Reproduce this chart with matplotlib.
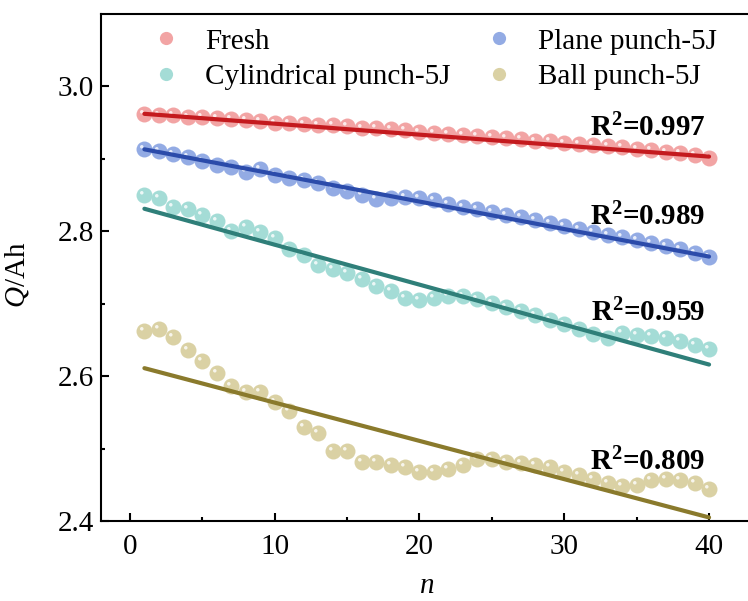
import numpy as np
import matplotlib
matplotlib.use("Agg")
import matplotlib.pyplot as plt
from matplotlib.path import Path
from matplotlib.lines import Line2D
from matplotlib.legend_handler import HandlerTuple

plt.rcParams['font.family'] = ['Liberation Serif', 'DejaVu Serif']
plt.rcParams['mathtext.fontset'] = 'custom'
plt.rcParams['mathtext.rm'] = 'Liberation Serif'
plt.rcParams['mathtext.it'] = 'Liberation Serif:italic'
plt.rcParams['mathtext.bf'] = 'Liberation Serif:bold'

# cycle number
n = np.arange(1, 41)

fresh = [2.962, 2.961, 2.960, 2.958, 2.957, 2.956, 2.955, 2.953, 2.952, 2.950,
         2.949, 2.948, 2.947, 2.946, 2.945, 2.943, 2.942, 2.941, 2.939, 2.937,
         2.936, 2.934, 2.933, 2.932, 2.930, 2.929, 2.927, 2.925, 2.924, 2.922,
         2.921, 2.919, 2.917, 2.916, 2.914, 2.912, 2.910, 2.908, 2.905, 2.901]
plane = [2.914, 2.911, 2.906, 2.903, 2.897, 2.892, 2.888, 2.882, 2.886, 2.878,
         2.874, 2.870, 2.866, 2.860, 2.855, 2.850, 2.845, 2.846, 2.847, 2.846,
         2.843, 2.838, 2.834, 2.830, 2.826, 2.822, 2.819, 2.815, 2.811, 2.807,
         2.803, 2.799, 2.795, 2.792, 2.788, 2.784, 2.779, 2.775, 2.770, 2.765]
cylindrical = [2.850, 2.846, 2.834, 2.830, 2.823, 2.814, 2.800, 2.806, 2.799, 2.790,
               2.776, 2.767, 2.753, 2.748, 2.742, 2.734, 2.724, 2.717, 2.708, 2.705,
               2.708, 2.711, 2.711, 2.707, 2.701, 2.695, 2.690, 2.684, 2.678, 2.672,
               2.665, 2.658, 2.653, 2.659, 2.657, 2.655, 2.652, 2.648, 2.643, 2.637]
ball = [2.662, 2.665, 2.654, 2.636, 2.621, 2.604, 2.587, 2.578, 2.578, 2.564,
        2.552, 2.530, 2.521, 2.497, 2.497, 2.482, 2.482, 2.478, 2.475, 2.468,
        2.468, 2.472, 2.478, 2.485, 2.486, 2.482, 2.480, 2.477, 2.474, 2.468,
        2.463, 2.458, 2.452, 2.448, 2.450, 2.456, 2.458, 2.457, 2.452, 2.444]

# linear fits, value at n=1 and n=40
fit_n = [1, 40]
fresh_fit = [2.962, 2.903]
plane_fit = [2.913, 2.765]
cylindrical_fit = [2.831, 2.616]
ball_fit = [2.611, 2.405]

r2_values = ["0.997", "0.989", "0.959", "0.809"]
r2_y = [2.942, 2.820, 2.687, 2.481]
names = ["Fresh", "Plane punch-5J", "Cylindrical punch-5J", "Ball punch-5J"]

point_colors = ["#F2A4A4", "#93ABE4", "#A4DCD6", "#DAD1A4"]
line_colors = ["#C41A1E", "#2B4BAA", "#2F7F79", "#8A7A2C"]

# small glossy spot in the upper-left of each sphere
_spot = Path.circle((-0.17, 0.17), 0.11)
spot_marker = Path(np.vstack([[0.5, -0.5], _spot.vertices]),
                   np.concatenate([[Path.MOVETO], _spot.codes]))

fig = plt.figure(figsize=(7.48, 6.01), dpi=100)
ax = fig.add_axes([0.135, 0.133, 0.871, 0.844])

series = [fresh, plane, cylindrical, ball]
fits = [fresh_fit, plane_fit, cylindrical_fit, ball_fit]
handles = []
for vals, fit, pc, lc in zip(series, fits, point_colors, line_colors):
    ax.plot(n, vals, 'o', ms=11.5, color=pc, mec='none', zorder=2)
    ax.plot(n, vals, ls='none', marker=spot_marker, ms=11.5, color='white',
            mec='none', alpha=0.8, zorder=2.1)
    ax.plot(fit_n, fit, color=lc, lw=3, solid_capstyle='round', zorder=3)
    h1 = Line2D([], [], ls='none', marker='o', ms=9.5, color=pc, mec='none')
    h2 = Line2D([], [], ls='none', marker=spot_marker, ms=9.5, color='white',
                mec='none', alpha=0.8)
    handles.append((h1, h2))

for val, y in zip(r2_values, r2_y):
    ax.text(39.75, y, r'R$^{\mathbf{2}}$=' + val, ha='right', va='center',
            fontsize=21, fontweight='bold')

# legend order: Fresh, Cylindrical / Plane, Ball
order = [0, 2, 1, 3]
ax.legend([handles[i] for i in order], [names[i] for i in order],
          handler_map={tuple: HandlerTuple(ndivide=None)},
          ncol=2, frameon=False, fontsize=21, loc='upper left',
          bbox_to_anchor=(0.061, 1.012), handlelength=1.0, handletextpad=0.5,
          columnspacing=1.5, labelspacing=0.3, borderaxespad=0.3)

ax.set_xlim(-2, 43)
ax.set_ylim(2.4, 3.1)
ax.set_xticks([0, 10, 20, 30, 40])
ax.set_xticks([5, 15, 25, 35], minor=True)
ax.set_yticks([2.4, 2.6, 2.8, 3.0])
ax.set_yticks([2.5, 2.7, 2.9], minor=True)
ax.set_yticklabels(["2.4", "2.6", "2.8", "3.0"])
ax.tick_params(which='both', direction='in', labelsize=21, width=1.5)
ax.tick_params(axis='y', pad=5)
ax.tick_params(axis='x', pad=9)
ax.tick_params(which='major', length=6)
ax.tick_params(which='minor', length=3)
ax.spines['right'].set_visible(False)
for s in ['left', 'bottom', 'top']:
    ax.spines[s].set_linewidth(1.5)

ax.set_xlabel(r'$n$', fontsize=21, labelpad=10)
ax.set_ylabel(r'$Q$/Ah', fontsize=21)
ax.yaxis.set_label_coords(-0.107, 0.485)

fig.savefig("out.png", dpi=100)
